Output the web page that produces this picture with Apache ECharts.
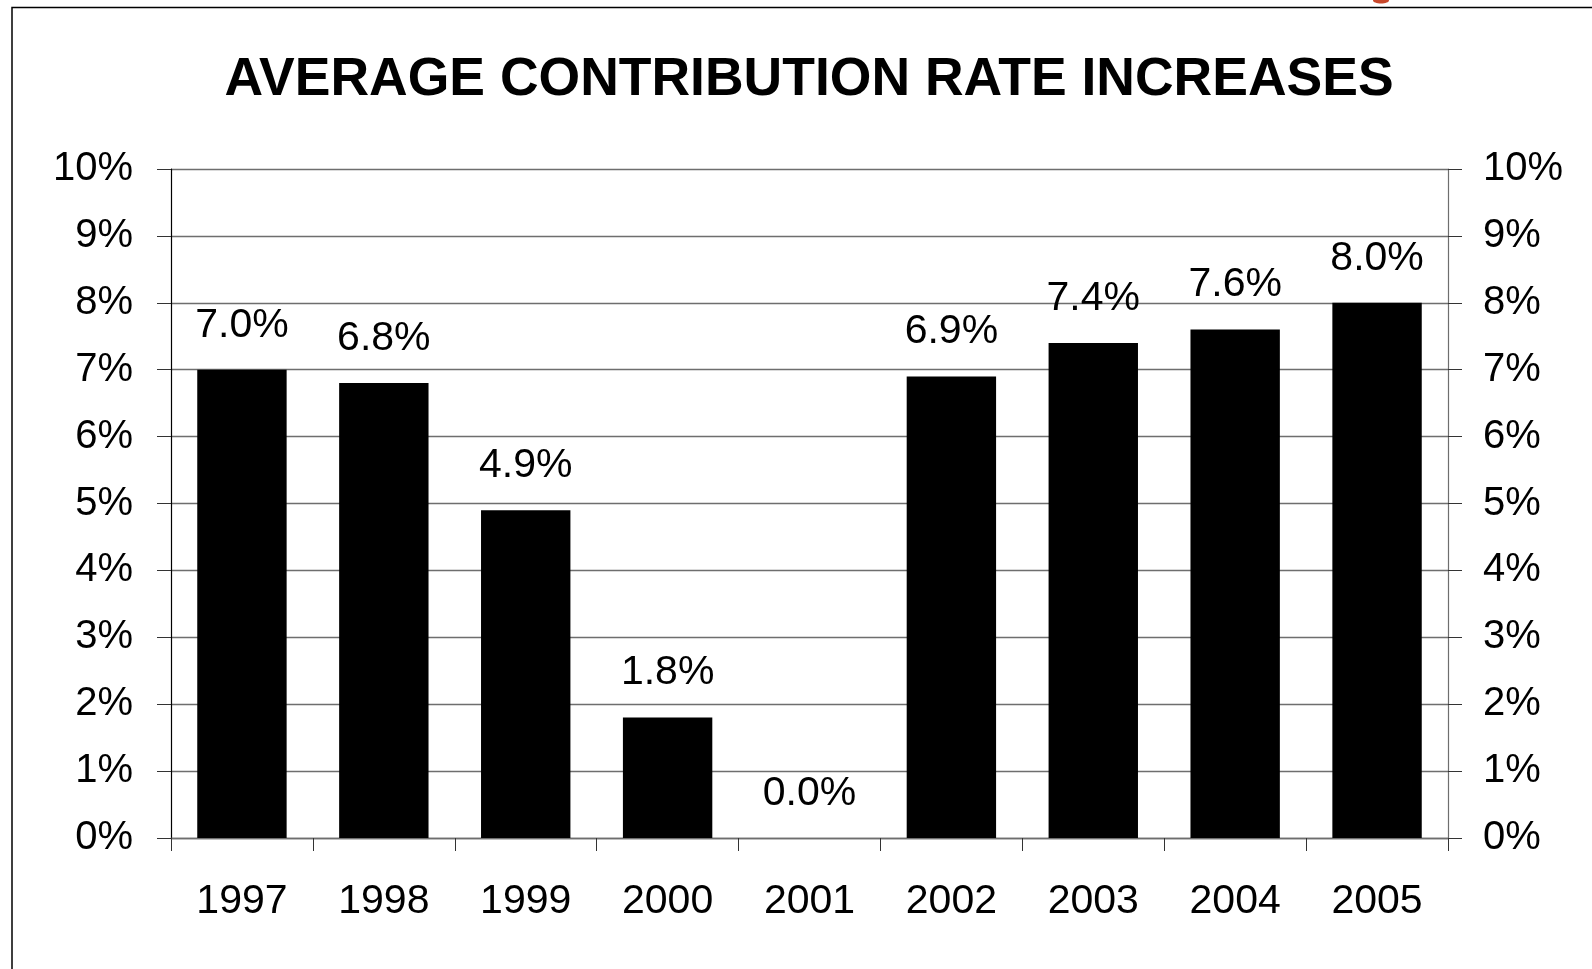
<!DOCTYPE html>
<html>
<head>
<meta charset="utf-8">
<script src="https://cdn.jsdelivr.net/npm/echarts@6/dist/echarts.min.js"></script>
<style>
html,body{margin:0;padding:0;background:#fff;}
#chart{width:1592px;height:969px;}
</style>
</head>
<body>
<div id="chart"></div>
<script>
const titleText = 'AVERAGE CONTRIBUTION RATE INCREASES';
const years = ['1997','1998','1999','2000','2001','2002','2003','2004','2005'];
const rates = [7.0, 6.8, 4.9, 1.8, 0.0, 6.9, 7.4, 7.6, 8.0];
const yTicks = [0,1,2,3,4,5,6,7,8,9,10];

const FONT = '"Liberation Sans", Arial, sans-serif';
const chart = echarts.init(document.getElementById('chart'));
const yAxisCommon = {
  type: 'value',
  min: yTicks[0],
  max: yTicks[yTicks.length - 1],
  interval: 1,
  axisLabel: { formatter: '{value}%', fontSize: 40, color: '#000', fontFamily: FONT },
  axisTick: { show: true, length: 14, lineStyle: { color: '#333', width: 1 } },
  splitLine: { show: true, lineStyle: { color: '#6e6e6e', width: 1.3 } }
};
chart.setOption({
  animation: false,
  backgroundColor: '#fff',
  title: {
    text: titleText,
    left: 809,
    textAlign: 'center',
    top: 53,
    padding: 0,
    textStyle: { fontSize: 53.5, fontWeight: 'bold', color: '#000', fontFamily: FONT }
  },
  grid: { left: 171, right: 144, top: 169, bottom: 131, containLabel: false },
  xAxis: {
    type: 'category',
    data: years,
    axisLine: { show: true, lineStyle: { color: '#6e6e6e', width: 1.3 } },
    axisTick: { show: true, length: 13, lineStyle: { color: '#333', width: 1 } },
    axisLabel: { fontSize: 41, color: '#000', margin: 43, fontFamily: FONT }
  },
  yAxis: [
    Object.assign({}, yAxisCommon, {
      position: 'left',
      axisLine: { show: true, lineStyle: { color: '#000', width: 1.2 } },
      axisLabel: Object.assign({}, yAxisCommon.axisLabel, { margin: 38 })
    }),
    Object.assign({}, yAxisCommon, {
      position: 'right',
      axisLine: { show: true, lineStyle: { color: '#6e6e6e', width: 1.2 } },
      axisLabel: Object.assign({}, yAxisCommon.axisLabel, { margin: 35 }),
      splitLine: { show: false }
    })
  ],
  series: [{
    type: 'bar',
    data: rates,
    yAxisIndex: 0,
    barCategoryGap: '37%',
    itemStyle: { color: '#000' },
    label: {
      show: true,
      position: 'top',
      distance: 24,
      fontSize: 41,
      color: '#000',
      fontFamily: FONT,
      formatter: p => p.value.toFixed(1) + '%'
    }
  }],
  graphic: [
    { type: 'polyline', shape: { points: [[12, 969], [12, 7.5], [1592, 7.5]] }, style: { stroke: '#000', lineWidth: 1.5, fill: null } },
    { type: 'ellipse', shape: { cx: 1381, cy: 0.5, rx: 8, ry: 3 }, style: { fill: '#c8482c' } }
  ]
});
</script>
</body>
</html>
